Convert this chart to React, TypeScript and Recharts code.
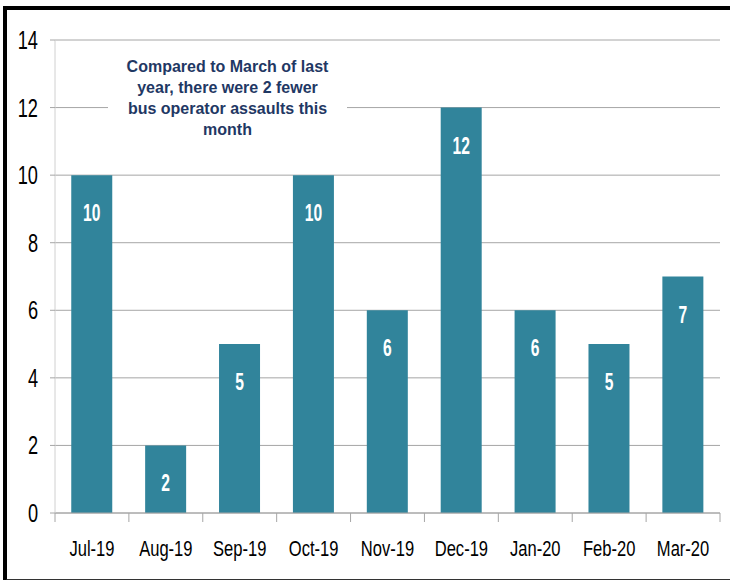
import { BarChart, Bar, XAxis, YAxis, CartesianGrid, LabelList } from 'recharts';

const months = ['Jul-19', 'Aug-19', 'Sep-19', 'Oct-19', 'Nov-19', 'Dec-19', 'Jan-20', 'Feb-20', 'Mar-20'];
const assaults = [10, 2, 5, 10, 6, 12, 6, 5, 7];
const yTicks = [0, 2, 4, 6, 8, 10, 12, 14];
const noteLines = [
  'Compared to March of last',
  'year, there were 2 fewer',
  'bus operator assaults this',
  'month',
];

const FONT = '"Liberation Sans", Arial, sans-serif';
const BAR = '#31849B';
const GRID = '#a6a6a6';

const data = months.map((m, i) => ({ month: m, value: assaults[i] }));

// category ticks sit on the band edges, like Excel
function MonthTick(props: any) {
  const { x, y, payload, index } = props;
  const half = payload?.offset ?? 36.9;
  const last = index === months.length - 1;
  return (
    <g>
      <line x1={x - half} x2={x - half} y1={y} y2={y + 9} stroke={GRID} />
      {last && <line x1={x + half} x2={x + half} y1={y} y2={y + 9} stroke={GRID} />}
      <text
        transform={`translate(${x},${y + 43}) scale(0.77,1)`}
        textAnchor="middle"
        fontFamily={FONT}
        fontSize={21.5}
        fill="#000"
      >
        {payload.value}
      </text>
    </g>
  );
}

// condensed-looking value ticks
function ValueTick(props: any) {
  const { x, y, payload } = props;
  return (
    <text
      transform={`translate(${x},${y + 9}) scale(0.7,1)`}
      textAnchor="end"
      fontFamily={FONT}
      fontSize={26}
      fill="#000"
    >
      {payload.value}
    </text>
  );
}

function BarValue(props: any) {
  const { x, y, width, value } = props;
  return (
    <text
      transform={`translate(${x + width / 2},${y + 46}) scale(0.68,1)`}
      textAnchor="middle"
      fontFamily={FONT}
      fontWeight="bold"
      fontSize={23}
      fill="#fff"
    >
      {value}
    </text>
  );
}

export default function App() {
  return (
    <div style={{ position: 'absolute', left: 0, top: 0, width: 730, height: 580, background: '#fff', overflow: 'hidden' }}>
      <style>{'body{margin:0}'}</style>
      <div
        style={{
          position: 'absolute', left: 3, top: 6, width: 740, height: 569,
          borderLeft: '4px solid #000', borderTop: '4px solid #000', borderBottom: '4px solid #333',
        }}
      />
      <div style={{ position: 'absolute', left: 0, top: 0 }}>
        <BarChart width={730} height={580} data={data} margin={{ top: 40, right: 10, bottom: 27, left: 0 }} barCategoryGap="22%">
          <CartesianGrid vertical={false} stroke={GRID} />
          <XAxis
            dataKey="month"
            stroke={GRID}
            tickLine={false}
            tickSize={0}
            tickMargin={0}
            height={40}
            tick={<MonthTick />}
            interval={0}
          />
          <YAxis
            domain={[0, 14]}
            ticks={yTicks}
            width={55}
            axisLine={{ stroke: '#d0d0d0' }}
            tickLine={{ stroke: GRID }}
            tickSize={5}
            tickMargin={12}
            tick={<ValueTick />}
          />
          <Bar dataKey="value" fill={BAR} isAnimationActive={false}>
            <LabelList dataKey="value" content={<BarValue />} />
          </Bar>
        </BarChart>
      </div>
      <div
        style={{
          position: 'absolute', left: 108, top: 51, width: 239, height: 95,
          background: '#fff', textAlign: 'center', paddingTop: 5,
          fontFamily: FONT, fontWeight: 'bold',
          fontSize: 16, lineHeight: '21px', color: '#1F3864', boxSizing: 'border-box',
        }}
      >
        {noteLines.map((l) => (
          <div key={l}>{l}</div>
        ))}
      </div>
    </div>
  );
}
